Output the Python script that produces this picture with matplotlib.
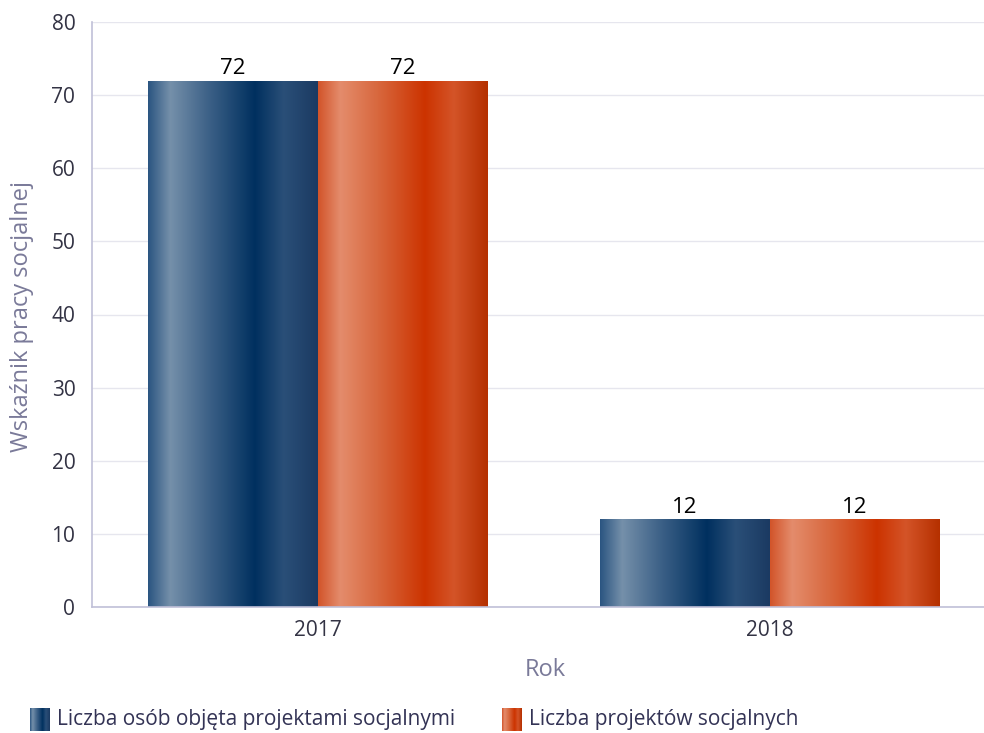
import numpy as np
import matplotlib
matplotlib.use("Agg")
import matplotlib.pyplot as plt
from matplotlib.colors import LinearSegmentedColormap

categories = ["2017", "2018"]
series_names = ["Liczba osób objęta projektami socjalnymi", "Liczba projektów socjalnych"]
values_osoby = [72, 12]
values_projekty = [72, 12]
y_ticks = [0, 10, 20, 30, 40, 50, 60, 70, 80]

plt.rcParams['font.family'] = ['Open Sans', 'DejaVu Sans']

blue_stops = [(0, "#2b5581"), (0.13, "#7590aa"), (0.35, "#3e6288"), (0.63, "#00305f"),
              (0.8, "#2a4f78"), (1.0, "#1b3a62")]
orange_stops = [(0, "#d2542a"), (0.13, "#e48c6c"), (0.35, "#d8683e"), (0.63, "#cc3300"),
                (0.8, "#d45428"), (1.0, "#b53000")]
cmaps = [LinearSegmentedColormap.from_list("b", blue_stops),
         LinearSegmentedColormap.from_list("o", orange_stops)]

W, H = 984, 733
fig = plt.figure(figsize=(W / 100, H / 100), dpi=100)
left, right, top, bottom = 92, 996, 22, 607
ax = fig.add_axes([left / W, 1 - bottom / H, (right - left) / W, (bottom - top) / H])

ax.set_xlim(-0.5, 1.5)
ax.set_ylim(0, 80)
ax.set_yticks(y_ticks)
ax.set_xticks(range(len(categories)))
ax.set_xticklabels(categories)
ax.grid(axis='y', color='#e6e6ee', linewidth=1)
ax.set_axisbelow(True)
for s in ['top', 'right']:
    ax.spines[s].set_visible(False)
for s in ['left', 'bottom']:
    ax.spines[s].set_color('#c0c0d8')
    ax.spines[s].set_linewidth(1.2)
ax.tick_params(axis='both', length=0, labelsize=15, colors='#333344', pad=12)
ax.tick_params(axis='x', pad=9)

bw = 0.376
grad = np.linspace(0, 1, 256).reshape(1, -1)
x = np.arange(len(categories))
for i, vals in enumerate([values_osoby, values_projekty]):
    offs = x - bw / 2 + i * bw
    bars = ax.bar(offs, vals, width=bw, color='none', edgecolor='none')
    for b, v in zip(bars, vals):
        x0, y0 = b.get_x(), b.get_y()
        im = ax.imshow(grad, cmap=cmaps[i], aspect='auto',
                       extent=[x0, x0 + b.get_width(), y0, y0 + b.get_height()],
                       interpolation='bilinear', zorder=2)
        im.set_clip_path(b)
        ax.text(x0 + b.get_width() / 2, v + 0.2, f"{v}", ha='center', va='bottom',
                fontsize=16, color='black', zorder=3)

ax.set_xlim(-0.5, 1.5)
ax.set_ylim(0, 80)

fig.text(22 / W, 1 - 316 / H, "Wskaźnik pracy socjalnej", rotation=90, ha='center', va='center',
         fontsize=17, color='#7a7a99')
fig.text(545 / W, 1 - 670 / H, "Rok", ha='center', va='center', fontsize=17, color='#7a7a99')

# legend
leg_items = [(30, series_names[0], cmaps[0]), (502, series_names[1], cmaps[1])]
for lx, name, cm in leg_items:
    lax = fig.add_axes([lx / W, 1 - 731 / H, 20 / W, 23 / H])
    lax.imshow(grad, cmap=cm, aspect='auto', extent=[0, 1, 0, 1], interpolation='bilinear')
    lax.axis('off')
    fig.text((lx + 27) / W, 1 - 719 / H, name, ha='left', va='center', fontsize=15,
             color='#333355')

fig.savefig("out.png", dpi=100)
